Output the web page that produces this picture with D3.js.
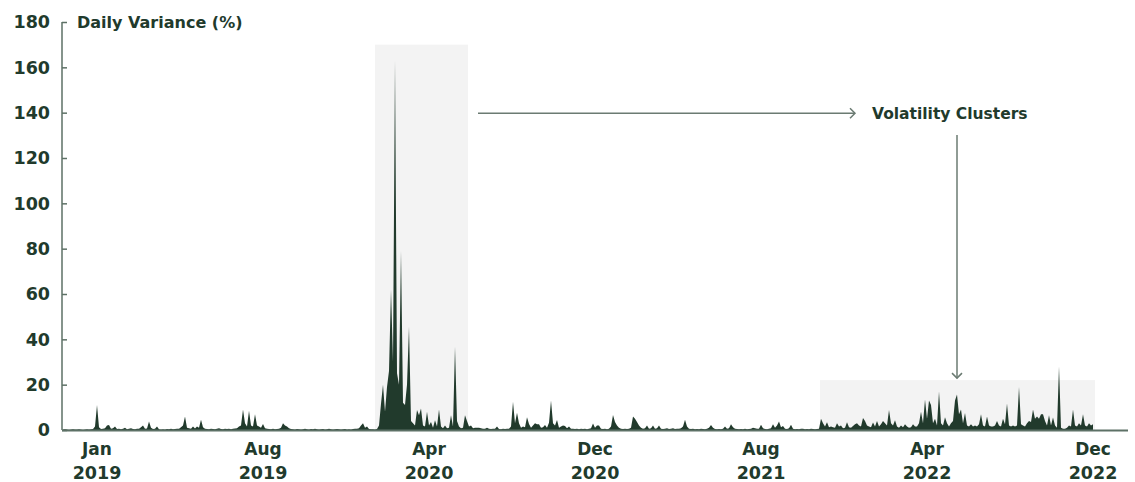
<!DOCTYPE html>
<html>
<head>
<meta charset="utf-8">
<script src="https://cdn.jsdelivr.net/npm/d3@7"></script>
<style>
  html, body { margin: 0; padding: 0; background: #ffffff; }
  svg { display: block; }
  text { font-family: "DejaVu Sans", "Noto Sans", sans-serif; font-weight: 700; fill: #213a2c; }
</style>
</head>
<body>
<svg id="chart" width="1135" height="482"></svg>
<script>
// ---- DATA (daily variance %, sampled every two trading days) ----
const variance2019 = [
  0.2,0.3,0.2,0.1,0.2,0.3,0.2,0.2,0.3,0.2,0.1,0.2,0.3,0.2,0.3,0.4,
  1.5,11,1.2,0.4,0.6,0.8,2,2.2,0.6,0.8,1.5,0.4,0.6,0.3,0.5,1,
  0.3,0.5,0.8,0.4,0.3,0.6,0.5,1.2,2,0.5,0.7,3.7,1,0.4,0.6,1.5,
  0.3,0.2,0.3,0.2,0.4,0.3,0.5,0.3,0.4,0.6,0.5,1.2,2,6,1,0.8,
  0.6,1.5,0.7,1.5,1,4.5,1.2,0.5,0.4,0.3,0.6,0.4,0.3,0.5,0.8,0.4,
  0.3,0.5,0.4,0.6,0.3,0.5,0.7,0.8,1.5,2,9,3,1.5,8.5,2,1.5,
  7,2,1.5,1,2.6,0.8,0.5,0.4,0.3,0.5,0.3,0.4,0.6,1,3,2,
  1.5,0.8,0.4,
  0.3,0.2,0.4,0.3,0.2,0.3,0.5,0.3,0.2,0.4,0.3,0.6,0.3,0.2,0.3,0.4,0.2,
  0.3,0.5,0.3,0.2,0.3,0.4,0.3,0.2,0.3,0.4,0.2,0.3,0.2,0.4,0.5,0.6,0.8,
  2,3,1,1.5,0.4,0.3,0.3,0.2,0.4
];
const variance2020Crash = [
  2,11.6,20,8,19,26,62,30,163,25,20,79,12,11,20,45.6,4,3,2,8.8,
  6.5,9.5,2,1.5,8,2,3.5,1,4.3,1.5,9,1.5,0.8,2,0.8,1,6.5,1.5,36.7,4,
  1.5,0.8,1,6.5,4,1.5,2,0.8,1,1
];
const variance2020to2021 = [
  1,0.8,0.5,0.6,1,0.5,0.4,0.6,0.5,1.5,0.4,0.3,0.5,0.4,0.6,0.5,
  1.5,12.5,3,7.6,3,1,1.5,1.2,5.6,2.6,1,2,3,2.5,2.5,1,
  1.2,2.2,1,3.2,13,3,2,4.4,1,1.5,2,1.8,0.8,1.5,0.6,0.5,
  0.4,0.5,0.3,0.6,0.4,0.5,0.3,0.6,0.8,2.9,1,2,2,0.6,0.4,0.5,
  0.3,0.5,1.5,6.6,3.5,2,1,0.5,0.4,0.6,0.4,0.5,1,6,5,3.5,
  2,1,0.6,0.8,2,0.6,0.8,2,0.5,0.8,2,0.6,0.4,0.6,0.8,0.4,
  0.5,0.8,0.4,0.5,0.6,0.8,1.5,4.5,1.5,0.6,0.4,0.5,0.3,0.4,0.3,0.5,
  0.4,0.3,0.6,1,2.2,1,0.4,0.3,0.4,0.3,0.5,1.5,0.5,0.8,2.5,1.2,
  0.5,0.4,0.3,0.4,0.3,0.5,0.3,0.4,0.5,1,0.8,0.5,0.6,2.3,0.8,0.4,
  0.3,0.5,0.8,2.5,1,2,3.8,1.2,1.8,0.6,0.4,0.8,2.3,0.5,0.3,0.4,
  0.3,0.5,0.6,0.3,0.4,0.3,0.5,0.4,0.3,0.4,0.6
];
const variance2022 = [
  5,3,1.5,3.4,1.2,1.5,1.2,1,3,1.5,2,0.8,1,3.4,1.2,1,
  1.8,2.5,3,2,1.5,5.3,4,2,1.5,1.2,3.3,1.5,4,1.5,2.5,4,
  3,2,8.8,3,2,4.3,1.5,1,2,1.2,2.5,1.5,1,1.2,2.5,1.5,
  1.5,3,8,3,13.5,5,13,11,3,5,2,17,3,2,5.6,3,
  1.5,3,4,13,15.7,7,9,3,7.5,2,1.5,2.5,1.5,2,1.5,2.5,
  7,2,1.5,6,2,1.5,1.5,2,4,2,1.5,5,2.5,11.7,2,1.5,
  2,1.5,2,19,2.5,2,1.5,3,4,3.5,9,5,6,5,7,7,
  4,2,6.5,2,5.5,2,1,28,1,0.5,0.5,1,2,1.5,9,2,
  1.5,3,2,7,2,1.5,3,2,2.5
];
const variance = [].concat(variance2019, variance2020Crash, variance2020to2021, variance2022);

const yTicks = [0, 20, 40, 60, 80, 100, 120, 140, 160, 180];
const xTickSample = [17, 100, 183, 266, 349, 432, 515];
const xTickMonth = ["Jan", "Aug", "Apr", "Dec", "Aug", "Apr", "Dec"];
const xTickYear = ["2019", "2019", "2020", "2020", "2021", "2022", "2022"];
// highlighted clusters: [first sample, last sample, top value]
const clusterSpans = [[156, 202.5, 170], [378.5, 516, 22]];
const yTitle = "Daily Variance (%)";
const annotationText = "Volatility Clusters";

// ---- DRAW ----
const svg = d3.select("#chart");
const x = d3.scaleLinear().domain([0, 532]).range([63, 1127]);
const y = d3.scaleLinear().domain([0, 180]).range([430, 22]);

const ink = "#213a2c";
const axisCol = "#5d7166";
const arrowCol = "#6b7b72";

// highlight boxes
svg.append("g").selectAll("rect").data(clusterSpans).join("rect")
  .attr("x", d => x(d[0]))
  .attr("y", d => y(d[2]))
  .attr("width", d => x(d[1]) - x(d[0]))
  .attr("height", d => y(0) - y(d[2]))
  .attr("fill", "#f3f3f3");

// area
const area = d3.area()
  .x((d, i) => x(i))
  .y0(y(0))
  .y1(d => y(d));
svg.append("path").datum(variance)
  .attr("d", area)
  .attr("fill", ink);

// y axis
const yAxis = svg.append("g").attr("transform", `translate(${x.range()[0] - 1},0)`)
  .call(d3.axisRight(y).tickValues(yTicks).tickSize(5).tickFormat(""));
yAxis.select(".domain").attr("d", `M0,${y(180)}V${y(0)}`).attr("stroke", axisCol).attr("stroke-width", 1.5);
yAxis.selectAll(".tick line").attr("stroke", axisCol).attr("stroke-width", 1.5);

svg.append("g").selectAll("text").data(yTicks).join("text")
  .attr("x", 50)
  .attr("y", d => y(d))
  .attr("dy", "0.36em")
  .attr("text-anchor", "end")
  .attr("font-size", 17.5)
  .text(d => d);

svg.append("text")
  .attr("x", 77).attr("y", y(180)).attr("dy", "0.36em")
  .attr("font-size", 16)
  .text(yTitle);

// x axis
const xAxis = svg.append("g").attr("transform", `translate(0,${y(0) + 0.5})`)
  .call(d3.axisBottom(x).tickValues(xTickSample).tickSize(0).tickFormat(""));
xAxis.select(".domain").attr("d", `M${x.range()[0] - 1},0H${x.range()[1] + 1}`).attr("stroke", axisCol).attr("stroke-width", 2);

const xl = svg.append("g").selectAll("g").data(xTickSample).join("g")
  .attr("transform", d => `translate(${x(d)},0)`);
xl.append("text").attr("y", 454.5).attr("text-anchor", "middle").attr("font-size", 17)
  .text((d, i) => xTickMonth[i]);
xl.append("text").attr("y", 479).attr("text-anchor", "middle").attr("font-size", 17.5)
  .text((d, i) => xTickYear[i]);

// annotation arrows
const ann = svg.append("g").attr("stroke", arrowCol).attr("stroke-width", 1.5).attr("fill", "none");
const hy = y(140) + 0.5;
const hx0 = x(clusterSpans[0][1]) + 10, hx1 = 855;
ann.append("line").attr("x1", hx0).attr("y1", hy).attr("x2", hx1).attr("y2", hy);
ann.append("path").attr("d", `M${hx1 - 5},${hy - 5}L${hx1},${hy}L${hx1 - 5},${hy + 5}`);
const vx = 957, vy0 = 135, vy1 = y(22) - 2;
ann.append("line").attr("x1", vx).attr("y1", vy0).attr("x2", vx).attr("y2", vy1);
ann.append("path").attr("d", `M${vx - 5},${vy1 - 5}L${vx},${vy1}L${vx + 5},${vy1 - 5}`);

svg.append("text").attr("x", 872).attr("y", hy).attr("dy", "0.36em")
  .attr("font-size", 15.5)
  .text(annotationText);
</script>
</body>
</html>
